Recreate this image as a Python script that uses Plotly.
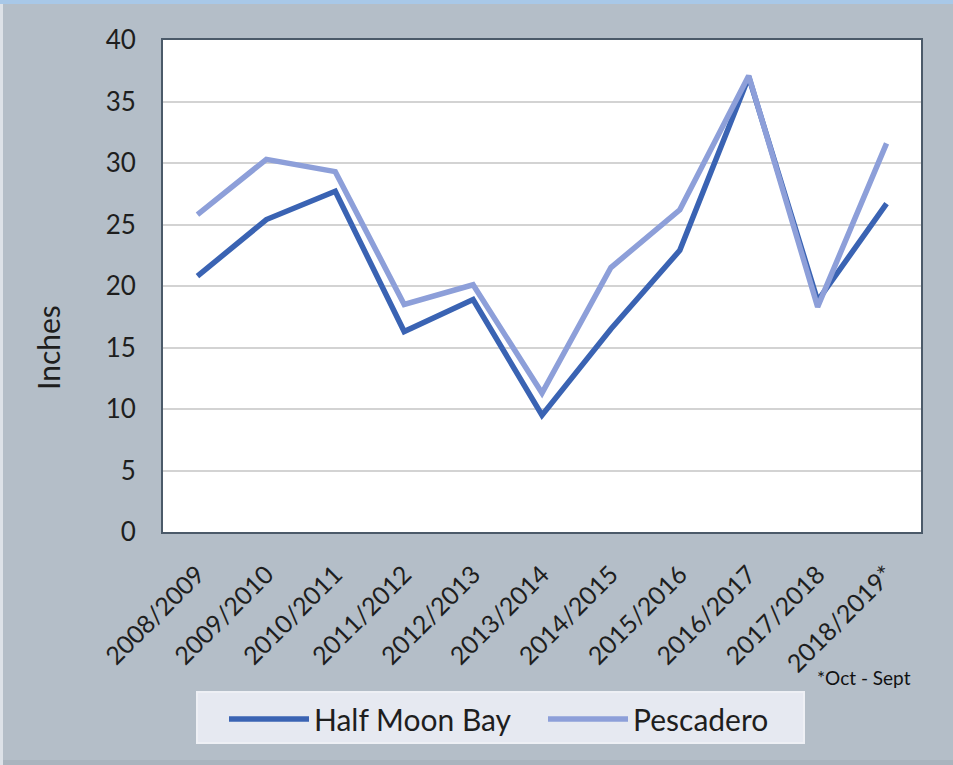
import plotly.graph_objects as go

seasons = ["2008/2009", "2009/2010", "2010/2011", "2011/2012", "2012/2013",
           "2013/2014", "2014/2015", "2015/2016", "2016/2017", "2017/2018",
           "2018/2019*"]
half_moon_bay = [20.8, 25.4, 27.7, 16.3, 18.9, 9.5, 16.5, 22.9, 37.0, 18.8, 26.7]
pescadero = [25.8, 30.3, 29.3, 18.5, 20.1, 11.3, 21.5, 26.2, 37.1, 18.3, 31.6]
y_ticks = [0, 5, 10, 15, 20, 25, 30, 35, 40]

W, H = 953, 765
ML, MR, MT, MB = 163, 32, 40, 233
PW, PH = W - ML - MR, H - MT - MB

FONT = "Lato"
TXT = "#1e1e1e"
BG = "#b4bec8"

fig = go.Figure()
fig.add_trace(go.Scatter(x=seasons, y=half_moon_bay, mode="lines", name="Half Moon Bay",
                         line=dict(color="#3a63b3", width=5.5)))
fig.add_trace(go.Scatter(x=seasons, y=pescadero, mode="lines", name="Pescadero",
                         line=dict(color="#8d9fd9", width=5.5)))

def px_x(p):
    return (p - ML) / PW

def px_y(p):
    return (H - MB - p) / PH

fig.update_layout(
    width=W, height=H,
    margin=dict(l=ML, r=MR, t=MT, b=MB, autoexpand=False),
    paper_bgcolor=BG,
    plot_bgcolor="white",
    font=dict(family=FONT, color=TXT),
    showlegend=True,
    legend=dict(orientation="h", x=px_x(224), y=px_y(693), xanchor="left", yanchor="top",
                bgcolor="rgba(0,0,0,0)", borderwidth=0,
                font=dict(size=30, family=FONT, color=TXT),
                entrywidth=224, entrywidthmode="pixels",
                itemwidth=80),
    xaxis=dict(type="category", range=[-0.5, 10.5], tickangle=-45,
               tickfont=dict(size=25, family=FONT, color=TXT),
               showgrid=False, showline=True, linecolor="#4b5a69", linewidth=2,
               mirror=True, ticks="", ticklabelstandoff=16, automargin=False),
    yaxis=dict(range=[0, 40], tickvals=y_ticks, ticktext=[str(v) for v in y_ticks],
               tickfont=dict(size=26, family=FONT, color=TXT),
               showgrid=True, gridcolor="#d3d3d3", gridwidth=2,
               showline=True, linecolor="#4b5a69", linewidth=2, mirror=True,
               zeroline=False, ticks="", ticklabelstandoff=20, automargin=False),
    annotations=[
        dict(text="Inches", xref="paper", yref="paper", x=px_x(48), y=px_y(348),
             showarrow=False, textangle=-90, font=dict(size=30, family=FONT, color=TXT),
             xanchor="center", yanchor="middle"),
        dict(text="*Oct - Sept", xref="paper", yref="paper", x=px_x(815), y=px_y(677),
             showarrow=False, font=dict(size=19, family=FONT, color="#111111"),
             xanchor="left", yanchor="middle"),
    ],
    shapes=[
        dict(type="rect", xref="paper", yref="paper", x0=px_x(0), x1=px_x(W),
             y0=px_y(0), y1=px_y(4), fillcolor="#a8c8e8", line=dict(width=0), layer="above"),
        dict(type="rect", xref="paper", yref="paper", x0=px_x(0), x1=px_x(3),
             y0=px_y(4), y1=px_y(H), fillcolor="#dde2e8", line=dict(width=0), layer="above"),
        dict(type="rect", xref="paper", yref="paper", x0=px_x(0), x1=px_x(W),
             y0=px_y(760), y1=px_y(H), fillcolor="#aab4be", line=dict(width=0), layer="below"),
        dict(type="rect", xref="paper", yref="paper", x0=px_x(197), x1=px_x(804),
             y0=px_y(692), y1=px_y(743), fillcolor="#e6e9f1",
             line=dict(color="#eef0f5", width=2), layer="below"),
    ],
)

fig.write_html("out.html", config={"displayModeBar": False},
               post_script="document.body.style.margin='0';document.body.style.overflow='hidden';")
